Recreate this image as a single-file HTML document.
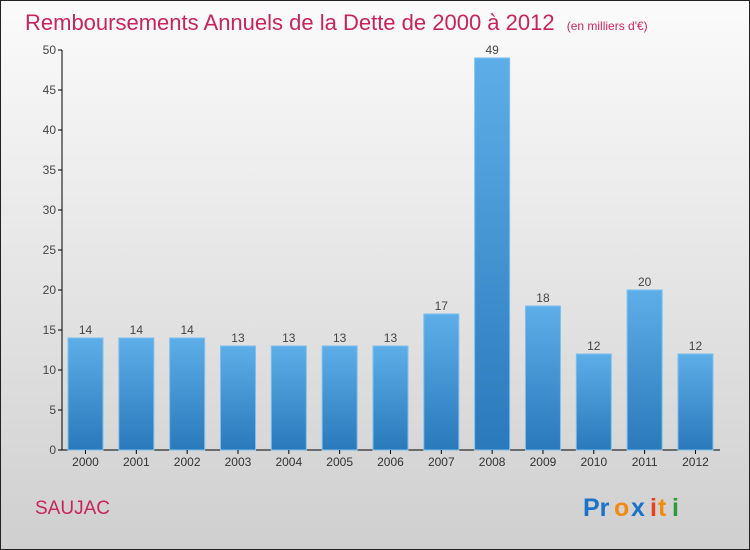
<!DOCTYPE html>
<html><head><meta charset="utf-8"><style>
body{margin:0}
svg{display:block;font-family:"Liberation Sans",sans-serif}
</style></head><body>
<svg id="c" width="750" height="550">
<defs>
<linearGradient id="bg" x1="0" y1="0" x2="0" y2="1"><stop offset="0" stop-color="#fbfbfb"/><stop offset="1" stop-color="#cfcfcf"/></linearGradient>
<linearGradient id="bar" x1="0" y1="0" x2="0" y2="1"><stop offset="0" stop-color="#5daee8"/><stop offset="1" stop-color="#2a79bb"/></linearGradient>
</defs>
<rect x="0.5" y="0.5" width="749" height="549" fill="url(#bg)" stroke="#222"/>
<text x="25" y="30" font-size="22" fill="#c8245a">Remboursements Annuels de la Dette de 2000 à 2012 <tspan font-size="12" dx="6">(en milliers d'€)</tspan></text>
<text x="35" y="514" font-size="19" fill="#c8245a">SAUJAC</text>
<g font-size="25" font-weight="bold">
<text x="583" y="516" fill="#1a73c8">Pr</text><text x="614" y="516" fill="#f08a10">o</text><text x="631" y="516" fill="#1a73c8">x</text><text x="650" y="516" fill="#e8401a">i</text><text x="658" y="516" fill="#f08a10">t</text><text x="672" y="516" fill="#2a9a3a">i</text>
</g>
<g id="plot"></g>
</svg>
<script>
const categories=["2000","2001","2002","2003","2004","2005","2006","2007","2008","2009","2010","2011","2012"];
const values=[14,14,14,13,13,13,13,17,49,18,12,20,12];
const yTicks=[0,5,10,15,20,25,30,35,40,45,50];
const NS="http://www.w3.org/2000/svg";
const g=document.getElementById("plot");
const y0=450,yTop=50,yMax=50;
const y=v=>y0-(v/yMax)*(y0-yTop);
const x=i=>68+i*50.83;
const bw=35;
function el(t,a,txt){const e=document.createElementNS(NS,t);for(const k in a)e.setAttribute(k,a[k]);if(txt!==undefined)e.textContent=txt;g.appendChild(e);return e;}
let ax=el("line",{x1:62,y1:y(yMax),x2:62,y2:y0,stroke:"#000"});


let bx=el("line",{x1:62,y1:y0,x2:720,y2:y0,stroke:"#000"});


yTicks.forEach(t=>{
 const l=el("line",{x1:58,y1:y(t),x2:62,y2:y(t),stroke:"#000"});
 
 
 const tx=el("text",{x:56,y:y(t)+4,"font-size":12,fill:"#444","text-anchor":"end"},t);
 
 
});
categories.forEach((c,i)=>{
 const v=values[i];
 const r=el("rect",{x:x(i),y:y(v),width:bw,height:y0-y(v),fill:"url(#bar)",stroke:"#7cc0ee","stroke-width":1});
 
 
 const vl=el("text",{x:x(i)+bw/2,y:y(v)-4,"font-size":12,fill:"#444","text-anchor":"middle"},v);
 
 
 const tk=el("line",{x1:x(i)+bw/2,y1:y0,x2:x(i)+bw/2,y2:y0+4,stroke:"#000"});
 
 
 const xl=el("text",{x:x(i)+bw/2,y:y0+16,"font-size":12,fill:"#333","text-anchor":"middle"},c);
 
 
});
</script>
</body></html>
